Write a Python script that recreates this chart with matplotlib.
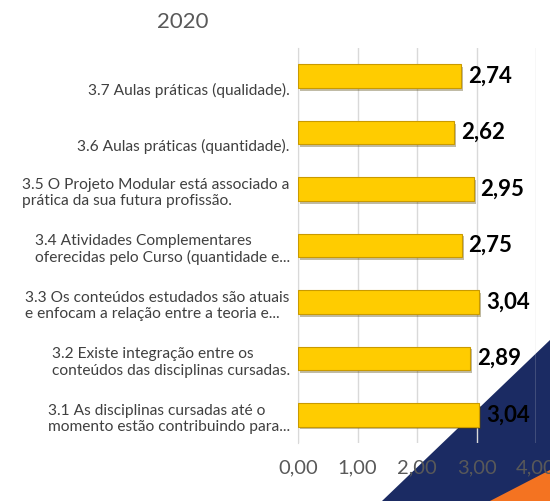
import matplotlib.pyplot as plt
import matplotlib.patheffects as pe
from matplotlib.patches import Polygon

plt.rcParams['font.family'] = ['Lato', 'DejaVu Sans']

# dados (de cima para baixo)
categorias = [
    "3.7 Aulas práticas (qualidade).",
    "3.6 Aulas práticas (quantidade).",
    "3.5 O Projeto Modular está associado a\nprática da sua futura profissão.",
    "3.4 Atividades Complementares\noferecidas pelo Curso (quantidade e...",
    "3.3 Os conteúdos estudados são atuais\ne enfocam a relação entre a teoria e...",
    "3.2 Existe integração entre os\nconteúdos das disciplinas cursadas.",
    "3.1 As disciplinas cursadas até o\nmomento estão contribuindo para...",
]
valores = [2.74, 2.62, 2.95, 2.75, 3.04, 2.89, 3.04]
xticks = [0, 1, 2, 3, 4]
titulo = "2020"

fig = plt.figure(figsize=(5.5, 5.01), dpi=100)

# fundo: faixas azul e laranja no canto
fig.patches.append(Polygon([(382/550, 0), (1, 1-340/501), (1, 0)],
                           closed=True, transform=fig.transFigure,
                           facecolor='#1b2b63', edgecolor='none', zorder=-2))
fig.patches.append(Polygon([(490/550, 0), (1, 1-470/501), (1, 0)],
                           closed=True, transform=fig.transFigure,
                           facecolor='#f47321', edgecolor='none', zorder=-1))

ax = fig.add_axes([298/550, 1-443/501, 238/550, 395/501])
ax.set_zorder(2)
ax.patch.set_alpha(0)

y = list(range(len(categorias)))
barras = ax.barh(y, valores, height=0.42, color='#ffcc00',
                 edgecolor='#c99a00', linewidth=0.8, zorder=3)
for b in barras:
    b.set_path_effects([pe.SimplePatchShadow(offset=(1.5, -2), alpha=0.35),
                        pe.Normal()])

for yi, v in zip(y, valores):
    ax.annotate(f"{v:.2f}".replace('.', ','), (v, yi),
                xytext=(5, 0), textcoords='offset points',
                va='center', ha='left', fontsize=16,
                fontweight='bold', color='black', zorder=4)

for yi, txt in zip(y, categorias):
    dy = -10 if '\n' not in txt else -3
    ax.annotate(txt, (0, yi), xytext=(-6, dy), textcoords='offset points',
                va='center', ha='right', multialignment='left',
                fontsize=11.2, color='#404040', linespacing=1.2,
                annotation_clip=False)

ax.set_xlim(0, 4)
ax.set_ylim(len(categorias) - 0.5, -0.5)
ax.set_xticks(xticks)
ax.set_xticklabels([f"{t:.2f}".replace('.', ',') for t in xticks],
                   fontsize=14.5, color='#595959')
ax.set_yticks([])
ax.tick_params(axis='x', length=0, pad=12)
ax.grid(axis='x', color='#d9d9d9', linewidth=1, zorder=0)
for s in ['top', 'right', 'bottom']:
    ax.spines[s].set_visible(False)
ax.spines['left'].set_color('#d9d9d9')

fig.text(183/550, 1-22/501, titulo, ha='center', va='center',
         fontsize=16, color='#595959')

fig.savefig('out.png', dpi=100)
